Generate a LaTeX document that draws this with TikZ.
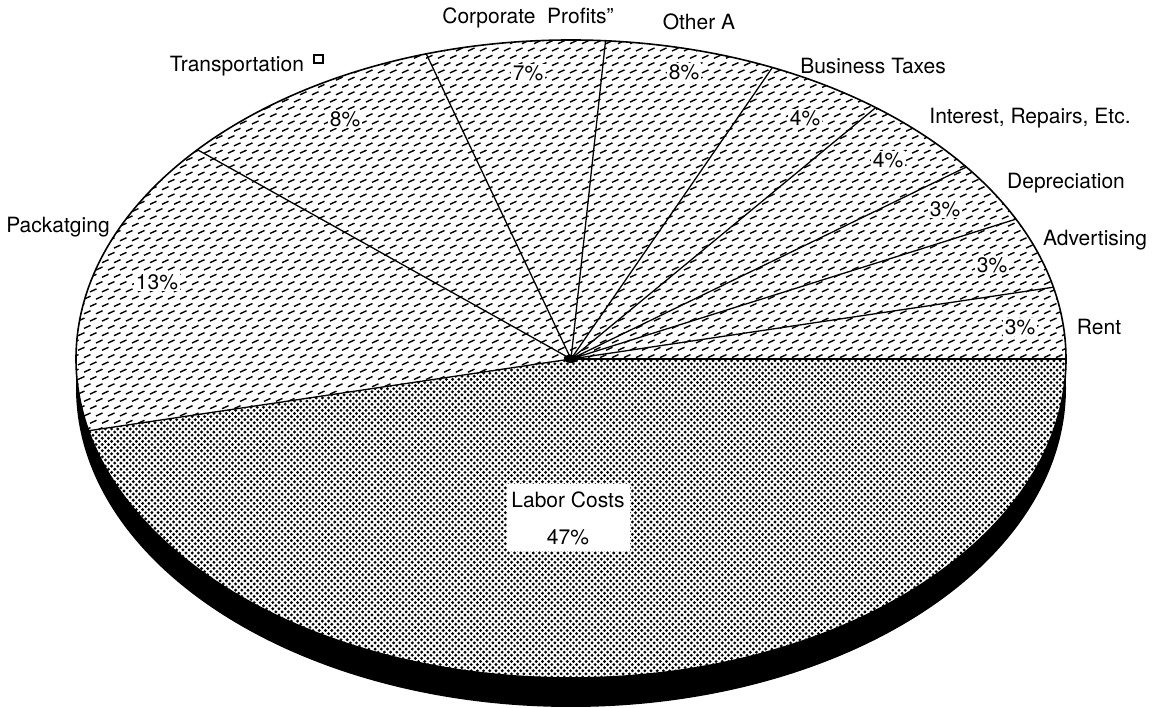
\documentclass[tikz,border=0pt]{standalone}
\usepackage{fontspec}
\setmainfont{TeX Gyre Heros}
\usepackage{tikz}
\usetikzlibrary{positioning, patterns}

% short dashes for the small slices
\pgfdeclarepatternformonly{dashhatch}{\pgfqpoint{-2pt}{-2pt}}{\pgfqpoint{14pt}{16pt}}{\pgfqpoint{12pt}{14.6pt}}{%
  \pgfsetlinewidth{1.4pt}%
  \pgfpathmoveto{\pgfqpoint{0pt}{0pt}}%
  \pgfpathlineto{\pgfqpoint{6.5pt}{3pt}}%
  \pgfpathmoveto{\pgfqpoint{6pt}{7.3pt}}%
  \pgfpathlineto{\pgfqpoint{12.5pt}{10.3pt}}%
  \pgfusepath{stroke}}
% halftone dots for labor costs
\pgfdeclarepatternformonly{halftone}{\pgfqpoint{-2pt}{-2pt}}{\pgfqpoint{8.2pt}{8.2pt}}{\pgfqpoint{6.2pt}{6.2pt}}{%
  \pgfpathcircle{\pgfqpoint{0pt}{0pt}}{1.6pt}%
  \pgfpathcircle{\pgfqpoint{3.1pt}{3.1pt}}{1.6pt}%
  \pgfusepath{fill}}

\begin{document}
\begin{tikzpicture}[x=1pt, y=1pt,
  lbl/.style={font=\fontsize{21}{25}\selectfont, inner sep=0pt},
  pct/.style={lbl, fill=white, inner sep=1.5pt},
  spoke/.style={line width=1.3pt},
  rim/.style={line width=1.6pt},
  face/.style={x radius=495, y radius=319},
  markbox/.style={draw, line width=1.6pt, minimum width=9pt, minimum height=8pt, inner sep=0pt}]
\useasboundingbox (0,0) rectangle (1154,708);
% Centre and black side of the pie
\coordinate (O) at (571,349);
\coordinate (S) at (571,320);
\fill (S) ellipse [face];
% Top face
\fill[white] (O) ellipse [face];
\fill[pattern=dashhatch] (O) ellipse [face];
% Labor costs slice
\fill[white] (O) -- ++(193:495 and 319) arc [start angle=193, end angle=360, face] -- cycle;
\fill[pattern=halftone] (O) -- ++(193:495 and 319) arc [start angle=193, end angle=360, face] -- cycle;
\draw[rim] (O) ellipse [face];
% Slice borders
\foreach \a in {0,13,26,37,52,66,86,107,139,193}{
\draw[spoke] (O) -- ++(\a:495 and 319);
}
\fill (O) ellipse [x radius=7, y radius=4];
% Percentages
\node[pct] (p13) at (157,426) {13\%};
\node[pct] (ptra) at (345,589) {8\%};
\node[pct] (pcor) at (528,635) {7\%};
\node[pct] (poth) at (684,636) {8\%};
\node[pct] (pbus) at (805,590) {4\%};
\node[pct] (pint) at (888,548) {4\%};
\node[pct] (pdep) at (945,499) {3\%};
\node[pct] (padv) at (992,443) {3\%};
\node[pct] (pren) at (1020,381) {3\%};
\node[lbl, fill=white, minimum width=123pt, minimum height=67pt, align=center] (labor) at (568,190) {Labor Costs\\[12pt]47\%};
% Names of the slices
\node[lbl] (corp) at (528,690) {Corporate~~Profits”};
\node[lbl] (other) at (699,686) {Other A};
\node[lbl] (bus) at (873,642) {Business Taxes};
\node[lbl] (inter) at (1030,590) {Interest, Repairs, Etc.};
\node[lbl] (depr) at (1066,525) {Depreciation};
\node[lbl] (adv) at (1095,468) {Advertising};
\node[lbl] (rent) at (1099,381) {Rent};
\node[lbl] (pack) at (58,481) {Packatging};
\node[lbl] (transp) at (237,642) {Transportation};
\node[markbox, right=9pt of transp, yshift=7pt] (transpmark) {};
\end{tikzpicture}
\end{document}
